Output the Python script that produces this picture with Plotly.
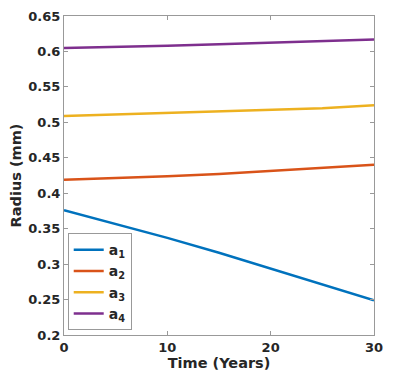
import plotly.graph_objects as go

# time points (years) and radii (mm)
time_years = [0, 5, 10, 15, 20, 25, 30]
a1 = [0.376, 0.357, 0.337, 0.316, 0.294, 0.271, 0.249]
a2 = [0.419, 0.421, 0.424, 0.427, 0.431, 0.435, 0.440]
a3 = [0.509, 0.511, 0.513, 0.515, 0.517, 0.520, 0.524]
a4 = [0.605, 0.606, 0.608, 0.610, 0.612, 0.614, 0.617]

names = ["a<sub>1</sub>", "a<sub>2</sub>", "a<sub>3</sub>", "a<sub>4</sub>"]
COLORS = ["#0072BD", "#D95319", "#EDB120", "#7E2F8E"]

fig = go.Figure()
for name, ys, c in zip(names, [a1, a2, a3, a4], COLORS):
    fig.add_trace(go.Scatter(x=time_years, y=ys, mode="lines", name=name,
                             line=dict(color=c, width=2.5)))

BOLD = dict(family="DejaVu Sans", size=13, color="#262626", weight="bold")
TITLE = dict(BOLD, size=14.5)

axis_style = dict(
    showline=True, linecolor="#999999", linewidth=1, mirror="ticks",
    ticks="inside", ticklen=4, tickcolor="#999999",
    showgrid=False, zeroline=False, automargin=False,
    tickfont=BOLD,
)

# page body adds an 8px margin, so the figure is a bit smaller than the window
fig.update_layout(
    width=392, height=372,
    paper_bgcolor="white", plot_bgcolor="white",
    font=BOLD,
    margin=dict(l=56, r=26, t=8, b=45),
    xaxis=dict(range=[0, 30], tickvals=[0, 10, 20, 30],
               title=dict(text="Time (Years)", standoff=4, font=TITLE),
               **axis_style),
    yaxis=dict(range=[0.2, 0.65], tickvals=[0.2, 0.25, 0.3, 0.35, 0.4, 0.45, 0.5, 0.55, 0.6, 0.65],
               ticktext=["0.2", "0.25", "0.3", "0.35", "0.4", "0.45", "0.5", "0.55", "0.6", "0.65"],
               title=dict(text="Radius (mm)", standoff=6, font=TITLE),
               **axis_style),
    legend=dict(x=0.012, y=0.015, xanchor="left", yanchor="bottom",
                bgcolor="white", bordercolor="#999999", borderwidth=1,
                font=dict(family="DejaVu Sans", size=14, color="#262626", weight="bold"),
                itemwidth=30, tracegroupgap=0),
    showlegend=True,
)

fig.write_html("out.html")
